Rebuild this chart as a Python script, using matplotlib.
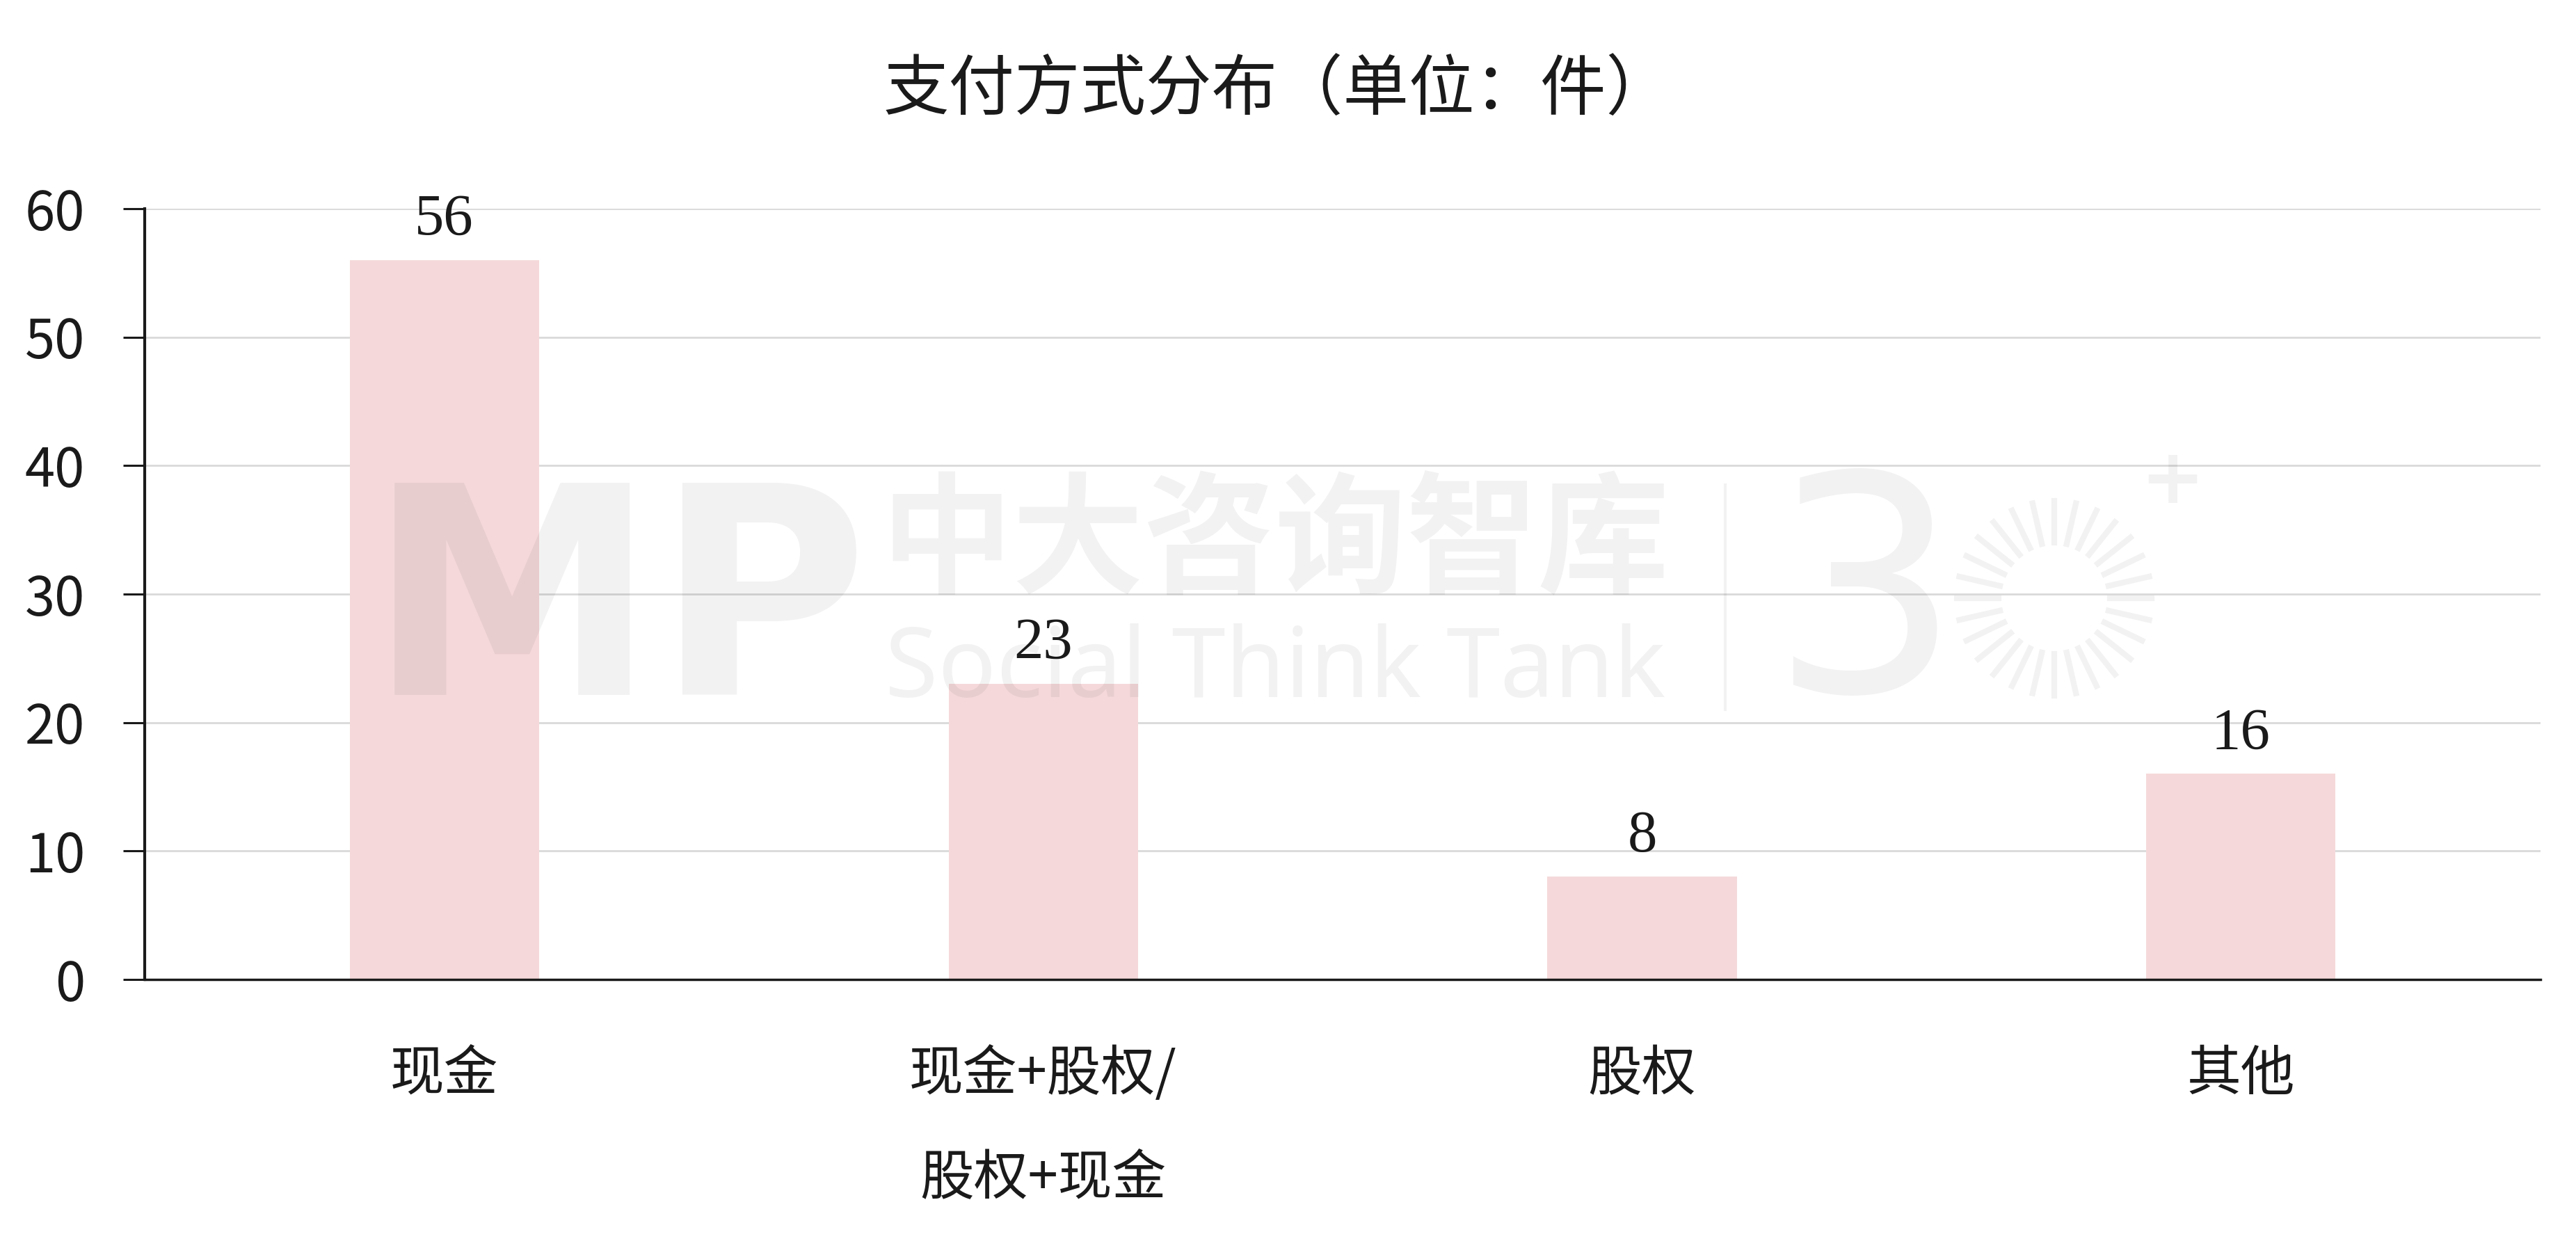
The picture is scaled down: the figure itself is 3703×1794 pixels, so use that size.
import numpy as np
import matplotlib.pyplot as plt
from matplotlib.lines import Line2D

plt.rcParams['font.family'] = ['Noto Sans CJK SC', 'DejaVu Sans']

# data
categories = ['现金', '现金+股权/\n股权+现金', '股权', '其他']
counts = [56, 23, 8, 16]
y_ticks = [0, 10, 20, 30, 40, 50, 60]
title = '支付方式分布（单位：件）'

bar_color = '#F5D9DA'
grid_color = '#D9D9D9'
text_color = '#1A1A1A'

W, H = 3703, 1794


def add_watermark(fig):
    # faint logo drawn over the plot, like the source image
    kw = dict(color='black', alpha=0.05, zorder=10)
    fig.text(0.240, 0.507, 'MP', fontsize=300, fontweight='bold', ha='center',
             va='center', family=['DejaVu Sans'], **kw)
    fig.text(0.495, 0.5635, '中大咨询智库', fontsize=136, fontweight='bold',
             ha='center', va='center', **kw)
    fig.text(0.495, 0.462, 'Social Think Tank', fontsize=100, ha='center',
             va='center', family=['Noto Sans', 'DejaVu Sans'], **kw)
    fig.add_artist(Line2D([2480 / W, 2480 / W], [1 - 1020 / H, 1 - 697 / H],
                          transform=fig.transFigure, linewidth=3, **kw))
    fig.text(0.724, 0.512, '3', fontsize=310, ha='center', va='center',
             family=['DejaVu Sans'], **kw)
    # sunburst ring next to the "3"
    cx, cy = 2953, 860
    for a in np.linspace(0, 2 * np.pi, 28, endpoint=False):
        x0, y0 = cx + 80 * np.cos(a), cy + 80 * np.sin(a)
        x1, y1 = cx + 140 * np.cos(a), cy + 140 * np.sin(a)
        fig.add_artist(Line2D([x0 / W, x1 / W], [1 - y0 / H, 1 - y1 / H],
                              transform=fig.transFigure, linewidth=6, **kw))
    fig.text(3123 / W, 1 - 692 / H, '+', fontsize=80, fontweight='bold',
             ha='center', va='center', family=['DejaVu Sans'], **kw)


def plot_payment_methods():
    fig = plt.figure(figsize=(W / 100, H / 100), dpi=100)
    ax = fig.add_axes([0.0562, 0.2152, 0.93, 0.6176])

    x = range(len(categories))
    bars = ax.bar(x, counts, width=0.316, color=bar_color, zorder=2)

    for rect, v in zip(bars, counts):
        ax.annotate(str(v), (rect.get_x() + rect.get_width() / 2, v),
                    xytext=(0, 26), textcoords='offset points',
                    ha='center', va='baseline', fontsize=61,
                    family=['Liberation Serif', 'DejaVu Serif'], color=text_color)

    ax.set_xlim(-0.5, len(categories) - 0.5)
    ax.set_ylim(0, 60)
    ax.set_yticks(y_ticks)
    ax.set_xticks(list(x))
    ax.set_xticklabels(categories, fontsize=56, color=text_color, linespacing=2.13)
    ax.tick_params(axis='x', length=0, pad=70)
    ax.tick_params(axis='y', length=22, width=2.2, pad=40, labelsize=56,
                   labelcolor=text_color, color=text_color)

    ax.yaxis.grid(True, color=grid_color, linewidth=2, zorder=0)
    ax.set_axisbelow(True)
    for side in ['top', 'right']:
        ax.spines[side].set_visible(False)
    ax.spines['left'].set_linewidth(3)
    ax.spines['bottom'].set_linewidth(2.5)
    ax.spines['left'].set_color(text_color)
    ax.spines['bottom'].set_color(text_color)

    fig.text(0.496, 0.9275, title, fontsize=68, color=text_color,
             ha='center', va='center')

    add_watermark(fig)

    fig.savefig('out.png', dpi=100, facecolor='white')


if __name__ == "__main__":
    plot_payment_methods()
